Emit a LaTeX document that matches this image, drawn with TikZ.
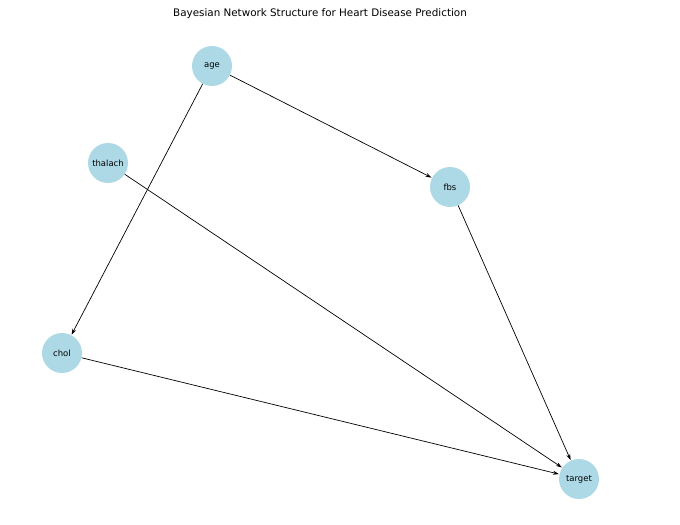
\documentclass[tikz,border=0pt]{standalone}
\usepackage{fontspec}
\setmainfont{DejaVu Sans}
\usetikzlibrary{arrows.meta}
\definecolor{nodeblue}{RGB}{173,216,230}
\begin{document}
\begin{tikzpicture}[x=1bp,y=-1bp,
  netnode/.style={circle,fill=nodeblue,minimum size=40bp,inner sep=0pt,font=\fontsize{8.5}{9}\selectfont},
  edge/.style={draw=black,line width=0.7bp,-{Stealth[length=6bp,width=4bp]},shorten >=0.5bp}]
\useasboundingbox (0,0) rectangle (680,525);
\node[font=\fontsize{10.4}{12}\selectfont] (title) at (320,13.5) {Bayesian Network Structure for Heart Disease Prediction};
\node[netnode] (age) at (212,66) {age};
\node[netnode] (thalach) at (108,163) {thalach};
\node[netnode] (fbs) at (450,187) {fbs};
\node[netnode] (chol) at (62,353) {chol};
\node[netnode] (target) at (579,479) {target};
\draw[edge] (age) -- (fbs);
\draw[edge] (age) -- (chol);
\draw[edge] (thalach) -- (target);
\draw[edge] (fbs) -- (target);
\draw[edge] (chol) -- (target);
\end{tikzpicture}
\end{document}
